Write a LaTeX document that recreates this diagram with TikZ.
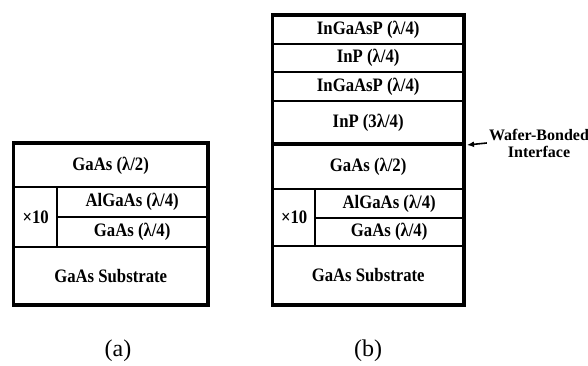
\documentclass[tikz,border=0pt]{standalone}
\usepackage{fontspec}
\setmainfont{Liberation Serif}
\newfontfamily\layerfont[FakeStretch=0.88]{Liberation Serif}
\usetikzlibrary{positioning,arrows.meta}
\tikzset{every node/.style={font=\small}}

\begin{document}
\begin{tikzpicture}[
  x=1pt, y=-1pt,
  layer/.style={
    draw,
    rectangle,
    line width=2.4pt,
    anchor=north west,
    inner sep=0pt,
    font=\layerfont\fontsize{19}{21}\selectfont\bfseries
  },
  outline/.style={draw, line width=3pt},
  caption/.style={font=\fontsize{24}{26}\selectfont}
]
\useasboundingbox (0,0) rectangle (588,366);

% (a) as grown
\node[layer, minimum width=193pt, minimum height=43pt] (aHalf) at (13,143) {GaAs (λ/2)};
\node[layer, minimum width=43pt, minimum height=60pt] (aTen) at (13,186) {×10};
\node[layer, minimum width=150pt, minimum height=30pt] (aAl) at (56,186) {AlGaAs (λ/4)};
\node[layer, minimum width=150pt, minimum height=30pt] (aGa) at (56,216) {GaAs (λ/4)};
\node[layer, minimum width=193pt, minimum height=57pt] (aSub) at (13,246) {GaAs Substrate};
\draw[outline] (aHalf.north west) rectangle (aSub.south east);

% (b) after bonding
\node[layer, minimum width=190pt, minimum height=28pt] (bQa) at (272,15) {InGaAsP (λ/4)};
\node[layer, minimum width=190pt, minimum height=28pt] (bInPa) at (272,43) {InP (λ/4)};
\node[layer, minimum width=190pt, minimum height=29pt] (bQb) at (272,71) {InGaAsP (λ/4)};
\node[layer, minimum width=190pt, minimum height=44pt] (bInPb) at (272,100) {InP (3λ/4)};
\node[layer, minimum width=190pt, minimum height=44pt] (bHalf) at (272,144) {GaAs (λ/2)};
\node[layer, minimum width=42pt, minimum height=57pt] (bTen) at (272,188) {×10};
\node[layer, minimum width=148pt, minimum height=29pt] (bAl) at (314,188) {AlGaAs (λ/4)};
\node[layer, minimum width=148pt, minimum height=28pt] (bGa) at (314,217) {GaAs (λ/4)};
\node[layer, minimum width=190pt, minimum height=58pt] (bSub) at (272,245) {GaAs Substrate};
\draw[outline] (bQa.north west) rectangle (bSub.south east);
\draw[line width=4pt] (bHalf.north west) -- (bHalf.north east);

\coordinate (bond) at (467,145);
\node[align=center, inner sep=2pt, font=\fontsize{16}{17}\selectfont\bfseries] (wbLabel) at (539,143) {Wafer-Bonded\\Interface};
\draw[-{Latex[length=7pt,width=6pt]}, line width=1.6pt] (wbLabel.west) -- (bond);

\node[caption] (capA) at (118,351) {(a)};
\node[caption] (capB) at (368,351) {(b)};

\end{tikzpicture}
\end{document}
